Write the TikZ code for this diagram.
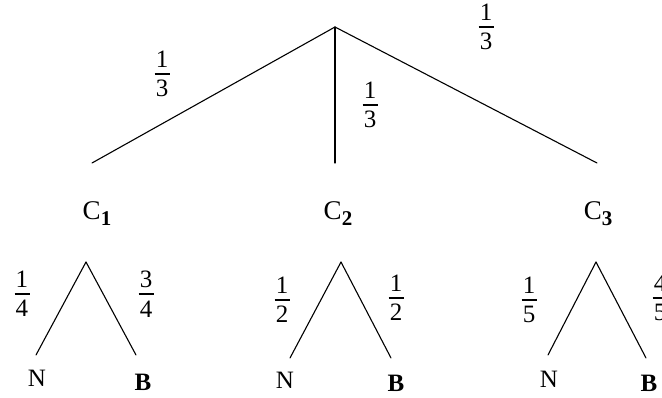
\documentclass[tikz,border=0pt]{standalone}
\usepackage{fontspec}
\setmainfont{Liberation Serif}
\newcommand\myfr[2]{\vbox{\offinterlineskip\halign{\hfil##\hfil\cr #1\cr\noalign{\kern5.5pt}\rule{0.6em}{1.9pt}\cr\noalign{\kern5.5pt}#2\cr}}}
\newcommand\myC[1]{C\raisebox{-6pt}{\fontsize{21}{23}\selectfont\bfseries #1}}
\tikzset{
  lab/.style={font=\fontsize{25}{28}\selectfont, inner sep=0pt},
  clab/.style={font=\fontsize{27}{30}\selectfont, inner sep=0pt},
  leaf/.style={font=\fontsize{25}{28}\selectfont, inner sep=0pt},
  branch/.style={line width=1.1pt, line cap=round}
}
\begin{document}
\begin{tikzpicture}[x=1pt,y=-1pt]
\useasboundingbox (0,0) rectangle (662,398);
% top level
\coordinate (R) at (335,27);
\coordinate (E1) at (92,163);
\coordinate (E2) at (335,163);
\coordinate (E3) at (597,163);
\draw[branch] (R) -- (E1);
\draw[branch] (R) -- (E2);
\draw[branch] (R) -- (E3);
\node[lab] (p1) at (162,74) {\myfr{1}{3}};
\node[lab] (p2) at (370,105) {\myfr{1}{3}};
\node[lab] (p3) at (486,27) {\myfr{1}{3}};
% C labels
\node[clab] (c1) at (97,214) {\myC{1}};
\node[clab] (c2) at (338,214) {\myC{2}};
\node[clab] (c3) at (598,214) {\myC{3}};
% subtree 1
\coordinate (A1) at (86,262);
\coordinate (N1e) at (36,355);
\coordinate (B1e) at (136,355);
\draw[branch] (A1) -- (N1e);
\draw[branch] (A1) -- (B1e);
\node[lab] (q11) at (22,294) {\myfr{1}{4}};
\node[lab] (q12) at (146,294) {\myfr{3}{4}};
\node[leaf] (n1) at (37,378) {N};
\node[leaf] (b1) at (143,382) {\bfseries B};
% subtree 2
\coordinate (A2) at (341,262);
\coordinate (N2e) at (290,358);
\coordinate (B2e) at (391,358);
\draw[branch] (A2) -- (N2e);
\draw[branch] (A2) -- (B2e);
\node[lab] (q21) at (282,300) {\myfr{1}{2}};
\node[lab] (q22) at (396,298) {\myfr{1}{2}};
\node[leaf] (n2) at (285,380) {N};
\node[leaf] (b2) at (396,383) {\bfseries B};
% subtree 3
\coordinate (A3) at (596,262);
\coordinate (N3e) at (548,355);
\coordinate (B3e) at (646,358);
\draw[branch] (A3) -- (N3e);
\draw[branch] (A3) -- (B3e);
\node[lab] (q31) at (529,300) {\myfr{1}{5}};
\node[lab] (q32) at (660,298) {\myfr{4}{5}};
\node[leaf] (n3) at (549,379) {N};
\node[leaf] (b3) at (649,383) {\bfseries B};
\end{tikzpicture}
\end{document}
